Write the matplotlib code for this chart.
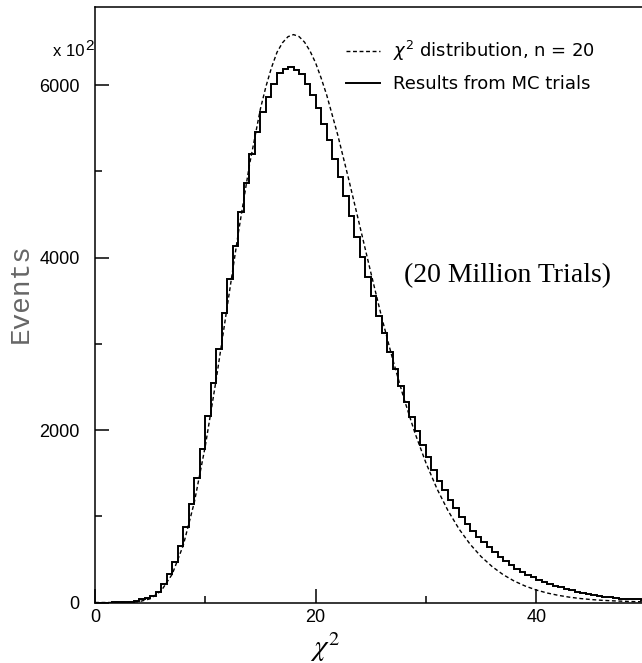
"""
Chi-square distribution (n = 20) vs. Monte Carlo histogram, ROOT-style frame.
"""

import matplotlib
matplotlib.use('Agg')  # Non-interactive backend
import matplotlib.pyplot as plt
from matplotlib.lines import Line2D
from matplotlib.ticker import MultipleLocator
import numpy as np

# Histogram: 100 bins of width 0.5 from 0 to 50, counts in units of 10^2
bin_lo, bin_hi, n_bins = 0.0, 50.0, 100
mc_counts = [
    0, 0, 0, 1, 2, 5, 10, 20, 35, 54,
    81, 127, 220, 332, 467, 660, 880, 1143, 1440, 1783,
    2157, 2544, 2938, 3355, 3752, 4138, 4532, 4867, 5196, 5451,
    5683, 5860, 6014, 6134, 6184, 6207, 6172, 6126, 6007, 5883,
    5729, 5547, 5362, 5142, 4937, 4713, 4485, 4242, 4010, 3779,
    3559, 3327, 3127, 2899, 2710, 2513, 2320, 2150, 1984, 1830,
    1687, 1540, 1413, 1301, 1193, 1097, 992, 915, 834, 761,
    700, 640, 580, 527, 484, 440, 394, 356, 324, 293,
    266, 240, 217, 197, 177, 159, 142, 127, 112, 101,
    89, 78, 69, 61, 54, 46, 43, 38, 35, 32,
]

# Expected chi2 curve (n = 20), same units
chi_x = [0, 1, 2, 3, 4, 5, 6, 7, 8, 9, 10, 11, 12, 13, 14, 15, 15.5, 16, 16.5,
         17, 17.5, 18, 18.5, 19, 19.5, 20, 20.5, 21, 22, 23, 24, 25, 26, 27,
         28, 29, 30, 31, 32, 33, 34, 35, 36, 37, 38, 39, 40, 41, 42, 43, 44,
         45, 46, 47, 48, 49, 50]
chi_y = [0, 0, 0.05, 1.2, 9.5, 43, 135, 328, 662, 1159, 1814, 2595, 3442, 4289,
         5071, 5726, 5984, 6202, 6380, 6491, 6561, 6585, 6562, 6497, 6393, 6257,
         6082, 5887, 5425, 4908, 4370, 3829, 3303, 2815, 2368, 1968, 1620, 1320,
         1066, 853, 677, 533, 417, 323, 249, 191, 145, 110, 83, 62, 46, 34, 25,
         19, 14, 10, 7.3]

x_major = [0, 20, 40]
y_major = [0, 2000, 4000, 6000]

W, H = 642, 663
fig = plt.figure(figsize=(W / 100, H / 100), dpi=100)
ax = fig.add_axes([95 / W, (H - 602.5) / H, 551.5 / W, 595.5 / H])

edges = np.linspace(bin_lo, bin_hi, n_bins + 1)
ax.stairs(mc_counts, edges, color='black', lw=1.4, baseline=None)
ax.plot(chi_x, chi_y, color='black', lw=1.0, dashes=(2.8, 1.9))

ax.set_xlim(0, 50)
ax.set_ylim(0, 6905)

# Ticks, ROOT style (inward)
ax.set_xticks(x_major)
ax.set_yticks(y_major)
ax.xaxis.set_minor_locator(MultipleLocator(10))
ax.yaxis.set_minor_locator(MultipleLocator(1000))
ax.tick_params(which='both', direction='in', width=1.1, top=False, right=False,
               labelfontfamily='Liberation Sans', labelsize=13)
ax.tick_params(which='major', length=10)
ax.tick_params(which='minor', length=5)
ax.tick_params(axis='y', pad=11)
ax.tick_params(axis='x', pad=5)

for side in ['left', 'bottom', 'top']:
    ax.spines[side].set_linewidth(1.1)
ax.spines['right'].set_visible(False)

# Axis labels
fig.text(21 / W, 1 - 293 / H, 'Events', rotation=90, ha='center', va='center',
         fontsize=20, family='Liberation Mono', color='#666666')
fig.text(325 / W, 1 - 647 / H, r'$\chi^2$', ha='center', va='center',
         fontsize=21, math_fontfamily='stix')

# Exponent label
fig.text(85 / W, 1 - 56 / H, 'x 10', ha='right', va='baseline',
         fontsize=12, family='Liberation Sans')
fig.text(85.5 / W, 1 - 50 / H, '2', ha='left', va='baseline',
         fontsize=11, family='Liberation Sans')

# Annotation
fig.text(508 / W, 1 - 276 / H, '(20 Million Trials)', ha='center', va='center',
         fontsize=20, family='Liberation Serif')

# Legend
handles = [
    Line2D([], [], color='black', lw=1.0, dashes=(2.8, 1.9)),
    Line2D([], [], color='black', lw=1.4),
]
labels = [r'$\chi^2$ distribution, n = 20', 'Results from MC trials']
ax.legend(handles, labels, loc='upper left', bbox_to_anchor=(346 / W, 1 - 39 / H),
          bbox_transform=fig.transFigure, frameon=False, borderpad=0,
          borderaxespad=0, handlelength=1.9, handletextpad=0.7,
          labelspacing=0.68, prop={'family': 'DejaVu Sans', 'size': 13})

plt.savefig('out.png', dpi=100)
plt.close()
